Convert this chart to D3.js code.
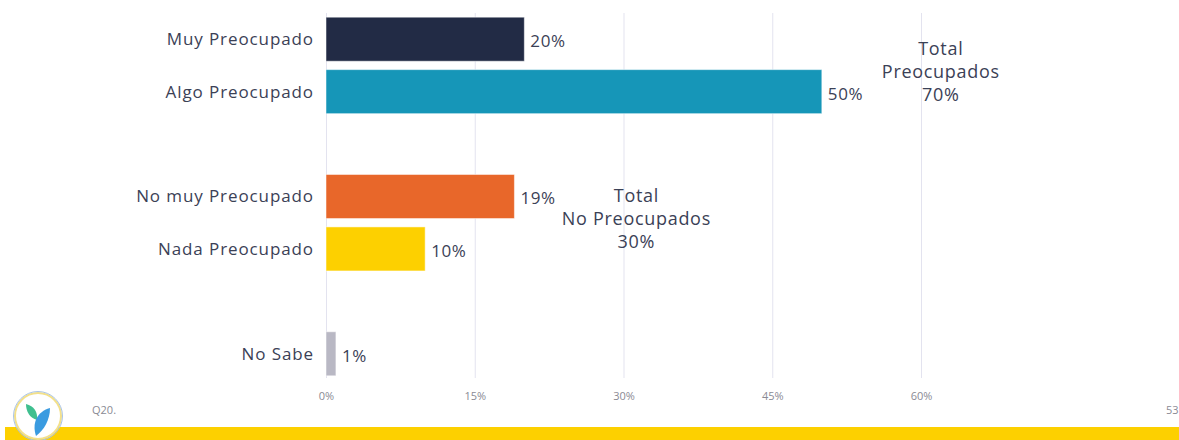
<!DOCTYPE html>
<html>
<head>
<meta charset="utf-8">
<script src="https://cdn.jsdelivr.net/npm/d3@7"></script>
<style>
  body { margin: 0; background: #fff; }
  svg text { font-family: "Open Sans", "DejaVu Sans", sans-serif; }
</style>
</head>
<body>
<div id="chart"></div>
<script>
// data
var categories = ["Muy Preocupado", "Algo Preocupado", "_gap1", "No muy Preocupado", "Nada Preocupado", "_gap2", "No Sabe"];
var values = [20, 50, null, 19, 10, null, 1];
var barColors = ["#222b45", "#1696b8", null, "#e8672a", "#fdd000", null, "#b9b8c4"];
var tickValues = [0, 15, 30, 45, 60];
var totalLabels = [["Total", "Preocupados", "70%"], ["Total", "No Preocupados", "30%"]];
var totalRows = [["Muy Preocupado", "Algo Preocupado"], ["No muy Preocupado", "Nada Preocupado"]];
var totalAt = [62, 31.3];

var W = 1179, H = 440;
var textColor = "#3b4156";

var svg = d3.select("#chart").append("svg")
    .attr("width", W)
    .attr("height", H);

var xScale = d3.scaleLinear()
    .domain([0, 60])
    .range([326, 921]);

var yScale = d3.scaleBand()
    .domain(categories)
    .range([13, 380])
    .paddingInner(0.16)
    .paddingOuter(0.08);

var rows = categories.map(function(c, i) {
    return { cat: c, value: values[i], color: barColors[i] };
}).filter(function(d) { return d.value !== null; });

// gridlines
svg.append("g").selectAll("line").data(tickValues).enter()
    .append("line")
    .attr("x1", function(d) { return xScale(d) + 0.5; })
    .attr("x2", function(d) { return xScale(d) + 0.5; })
    .attr("y1", 13)
    .attr("y2", 378)
    .attr("stroke", "#e3e3ef")
    .attr("stroke-width", 1);

// x axis tick labels
var xAxis = d3.axisBottom(xScale)
    .tickValues(tickValues)
    .tickSize(0)
    .tickPadding(0)
    .tickFormat(function(d) { return d + "%"; });

var gx = svg.append("g")
    .attr("transform", "translate(0,392)")
    .call(xAxis);
gx.select(".domain").remove();
gx.selectAll("text")
    .attr("fill", "#8a8a94")
    .attr("font-size", 11)
    .attr("dy", "0.75em")
    .style("font-family", "'Open Sans', sans-serif");

// bars
svg.append("g").selectAll("rect").data(rows).enter()
    .append("rect")
    .attr("x", xScale(0))
    .attr("y", function(d) { return yScale(d.cat); })
    .attr("width", function(d) { return xScale(d.value) - xScale(0); })
    .attr("height", yScale.bandwidth())
    .attr("fill", function(d) { return d.color; })
    .attr("stroke", "#ffffff")
    .attr("stroke-opacity", 0.5)
    .attr("stroke-width", 1);

// category labels
svg.append("g").selectAll("text").data(rows).enter()
    .append("text")
    .attr("x", 314)
    .attr("y", function(d) { return yScale(d.cat) + yScale.bandwidth() / 2; })
    .attr("dy", "0.35em")
    .attr("text-anchor", "end")
    .attr("font-size", 17)
    .attr("letter-spacing", 0.9)
    .attr("fill", textColor)
    .text(function(d) { return d.cat; });

// value labels
svg.append("g").selectAll("text").data(rows).enter()
    .append("text")
    .attr("x", function(d) { return xScale(d.value) + 6; })
    .attr("y", function(d) { return yScale(d.cat) + yScale.bandwidth() / 2 + 2; })
    .attr("dy", "0.35em")
    .attr("font-size", 17)
    .attr("letter-spacing", 0.6)
    .attr("fill", textColor)
    .text(function(d) { return d.value + "%"; });

// totals
var totalShift = [6, -4];
totalLabels.forEach(function(lines, k) {
    var y0 = yScale(totalRows[k][0]) + yScale.bandwidth() / 2;
    var y1 = yScale(totalRows[k][1]) + yScale.bandwidth() / 2;
    var mid = (y0 + y1) / 2 + totalShift[k];
    var txt = svg.append("text")
        .attr("x", xScale(totalAt[k]))
        .attr("y", mid - 23)
        .attr("text-anchor", "middle")
        .attr("font-size", 18)
        .attr("letter-spacing", 0.7)
        .attr("fill", textColor);
    lines.forEach(function(l, i) {
        txt.append("tspan")
            .attr("x", xScale(totalAt[k]))
            .attr("dy", i === 0 ? "0.35em" : 23)
            .text(l);
    });
});

// footer
svg.append("rect")
    .attr("x", 5)
    .attr("y", 427)
    .attr("width", W - 5)
    .attr("height", H - 427)
    .attr("fill", "#fdd000");

svg.append("text")
    .attr("x", 92)
    .attr("y", 414)
    .attr("font-size", 11)
    .attr("fill", "#8a8a94")
    .text("Q20.");

svg.append("text")
    .attr("x", 1166)
    .attr("y", 414)
    .attr("font-size", 11)
    .attr("fill", "#8a8a94")
    .text("53");

var logo = svg.append("g").attr("transform", "translate(38,416)");
logo.append("circle")
    .attr("r", 23)
    .attr("fill", "#ffffff")
    .attr("stroke", "#f3e08a")
    .attr("stroke-width", 2);
logo.append("circle")
    .attr("r", 24.5)
    .attr("fill", "none")
    .attr("stroke", "#a9c4e6")
    .attr("stroke-width", 1);
logo.append("path")
    .attr("d", "M-12,-12 C-4,-10 0,-4 -1,4 C-8,2 -12,-4 -12,-12 Z")
    .attr("fill", "#3fbf8f");
logo.append("path")
    .attr("d", "M-2,20 C-6,8 -2,-4 12,-8 C12,4 6,14 -2,20 Z")
    .attr("fill", "#3a9be0");
</script>
</body>
</html>
